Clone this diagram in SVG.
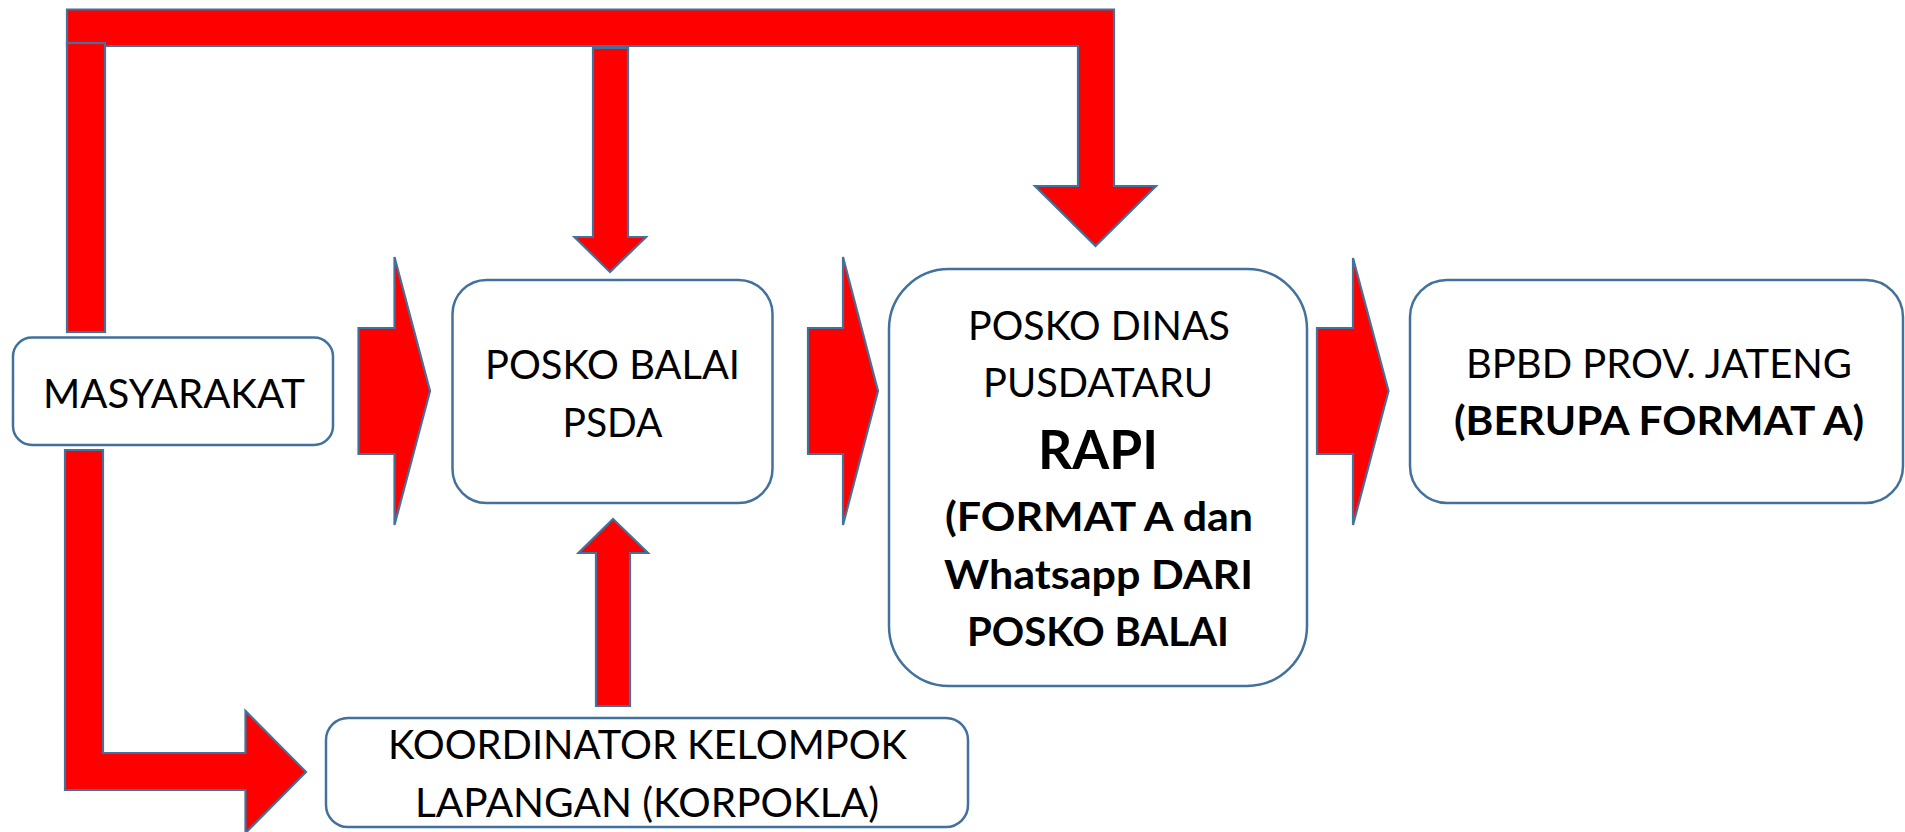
<svg xmlns="http://www.w3.org/2000/svg" width="1905" height="832" viewBox="0 0 1905 832">
<style>
.box{fill:#ffffff;stroke:#41719C;stroke-width:2.5}
.arr{fill:#FF0000;stroke:#41719C;stroke-width:2.2;stroke-linejoin:miter}
.t{font-family:Lato,"Open Sans","Liberation Sans",sans-serif;font-size:41px;fill:#000;text-anchor:middle}
.b{font-weight:bold}
</style>
<rect width="1905" height="832" fill="#ffffff"/>
<g id="connectors">
  <polygon class="arr" points="67,9.5 1114,9.5 1114,186 1156,186 1095.5,246 1035,186 1078,186 1078,46 67,46"/>
  <rect class="arr" x="67" y="43" width="38" height="289"/>
  <polygon class="arr" points="593,48 628,48 628,237 646,237 610,272 574.5,237 593,237"/>
  <polygon class="arr" points="596,706 630,706 630,553 648,553 613,519 578.5,553 596,553"/>
  <polygon class="arr" points="65,450 103,450 103,753 245.5,753 245.5,711 306,772 245.5,833 245.5,790 65,790"/>
  <polygon class="arr" points="358.5,328 394.5,328 394.5,257 430,391 394.5,525 394.5,454 358.5,454"/>
  <polygon class="arr" points="808,328 843,328 843,257 878,391 843,525 843,454 808,454"/>
  <polygon class="arr" points="1317,328 1353,328 1353,258 1388.5,391 1353,525 1353,454 1317,454"/>
</g>
<g id="masyarakat">
  <rect class="box" x="13" y="337.5" width="320" height="107.5" rx="19" ry="19"/>
  <text class="t" x="174" y="408" textLength="262" lengthAdjust="spacingAndGlyphs">MASYARAKAT</text>
</g>
<g id="posko-balai">
  <rect class="box" x="452.5" y="280" width="320" height="223" rx="34" ry="34"/>
  <text class="t" x="612.5" y="378.5" textLength="255" lengthAdjust="spacingAndGlyphs">POSKO BALAI</text>
  <text class="t" x="612.5" y="436.5" textLength="100" lengthAdjust="spacingAndGlyphs">PSDA</text>
</g>
<g id="korpokla">
  <rect class="box" x="326" y="718" width="642" height="109" rx="22" ry="22"/>
  <text class="t" x="647.5" y="759" textLength="519" lengthAdjust="spacingAndGlyphs">KOORDINATOR KELOMPOK</text>
  <text class="t" x="647" y="817" textLength="464" lengthAdjust="spacingAndGlyphs">LAPANGAN (KORPOKLA)</text>
</g>
<g id="posko-dinas">
  <rect class="box" x="889" y="269" width="418" height="417" rx="60" ry="60"/>
  <text class="t" x="1099" y="340" textLength="262" lengthAdjust="spacingAndGlyphs">POSKO DINAS</text>
  <text class="t" x="1098" y="396.5" textLength="230" lengthAdjust="spacingAndGlyphs">PUSDATARU</text>
  <text class="t b" x="1098" y="469" style="font-size:54px" textLength="120" lengthAdjust="spacingAndGlyphs">RAPI</text>
  <text class="t b" x="1099" y="531" textLength="308" lengthAdjust="spacingAndGlyphs">(FORMAT A dan</text>
  <text class="t b" x="1098.5" y="589" textLength="309" lengthAdjust="spacingAndGlyphs">Whatsapp DARI</text>
  <text class="t b" x="1098" y="646" textLength="262" lengthAdjust="spacingAndGlyphs">POSKO BALAI</text>
</g>
<g id="bpbd">
  <rect class="box" x="1410" y="280" width="493" height="223" rx="37" ry="37"/>
  <text class="t" x="1659" y="378" textLength="386" lengthAdjust="spacingAndGlyphs">BPBD PROV. JATENG</text>
  <text class="t b" x="1659" y="435" textLength="410" lengthAdjust="spacingAndGlyphs">(BERUPA FORMAT A)</text>
</g>
</svg>
